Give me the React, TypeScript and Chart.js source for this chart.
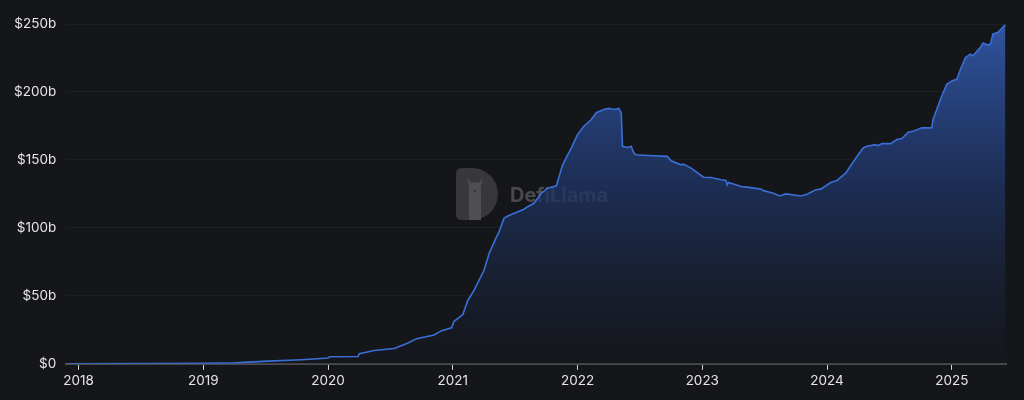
import React, { useEffect, useRef } from "react";
import { Chart, registerables } from "chart.js";

Chart.register(...registerables);

// Time as fractional year, TVL in billions of USD
const years: number[] = [
  2017.91, 2018.51, 2018.99, 2019.25, 2019.52, 2019.79, 2020.0, 2020.01, 2020.24, 2020.25,
  2020.37, 2020.53, 2020.64, 2020.71, 2020.85, 2020.91, 2020.99, 2021.01, 2021.08, 2021.12,
  2021.17, 2021.25, 2021.29, 2021.35, 2021.37, 2021.41, 2021.44, 2021.57, 2021.6, 2021.65,
  2021.71, 2021.76, 2021.83, 2021.88, 2021.95, 2022.0, 2022.05, 2022.11, 2022.15, 2022.21,
  2022.25, 2022.29, 2022.33, 2022.35, 2022.36, 2022.4, 2022.43, 2022.45, 2022.47, 2022.56,
  2022.72, 2022.75, 2022.83, 2022.85, 2022.91, 2023.01, 2023.07, 2023.15, 2023.19, 2023.2,
  2023.21, 2023.25, 2023.31, 2023.36, 2023.47, 2023.49, 2023.57, 2023.62, 2023.67, 2023.79,
  2023.84, 2023.91, 2023.95, 2024.03, 2024.08, 2024.15, 2024.2, 2024.25, 2024.29, 2024.32,
  2024.39, 2024.41, 2024.44, 2024.51, 2024.56, 2024.6, 2024.65, 2024.69, 2024.76, 2024.84,
  2024.85, 2024.89, 2024.92, 2024.96, 2025.0, 2025.04, 2025.07, 2025.11, 2025.15, 2025.17,
  2025.23, 2025.25, 2025.29, 2025.31, 2025.33, 2025.37, 2025.4, 2025.43,
];

const tvl: number[] = [
  0.0, 0.1, 0.4, 0.7, 2.0, 3.0, 4.2, 5.2, 5.4, 7.4,
  9.8, 11.3, 15.3, 18.5, 21.2, 24.4, 26.5, 31.3, 36.2, 46.6,
  54.0, 68.8, 81.0, 93.4, 97.0, 107.0, 108.7, 113.7, 115.6, 118.1,
  125.5, 129.2, 130.9, 146.4, 158.8, 168.6, 174.8, 179.7, 184.7, 187.1,
  187.9, 187.1, 187.9, 184.7, 160.0, 159.2, 160.0, 155.1, 153.8, 153.3,
  152.6, 149.4, 146.4, 146.9, 144.0, 137.3, 137.1, 135.4, 134.9, 131.7,
  133.4, 132.2, 130.4, 130.0, 128.5, 127.4, 125.5, 123.5, 125.0, 123.5,
  124.8, 128.0, 128.5, 133.4, 134.9, 140.3, 147.2, 153.8, 158.8, 160.0,
  161.2, 160.5, 162.0, 162.0, 165.0, 165.7, 170.3, 171.1, 173.6, 173.6,
  179.7, 189.6, 197.0, 205.6, 208.1, 209.3, 216.7, 225.4, 227.8, 226.6,
  232.8, 236.0, 234.5, 235.2, 242.6, 243.9, 246.7, 249.3,
];

const xTicks: number[] = [2018, 2019, 2020, 2021, 2022, 2023, 2024, 2025];
const yTicks: number[] = [0, 50, 100, 150, 200, 250];

const BG = "#151619";
const FONT = "Inter, 'Noto Sans', sans-serif";

const watermark = {
  id: "watermark",
  beforeDatasetsDraw(chart: any) {
    const ctx = chart.ctx as CanvasRenderingContext2D;
    ctx.save();
    const x = 456, y = 168, w = 38, h = 52, r = 6;
    ctx.fillStyle = "#38383a";
    ctx.beginPath();
    ctx.moveTo(x + r, y);
    ctx.lineTo(x + w - 22, y);
    ctx.arc(x + w - 22, y + h / 2, h / 2, -Math.PI / 2, Math.PI / 2);
    ctx.lineTo(x + r, y + h);
    ctx.quadraticCurveTo(x, y + h, x, y + h - r);
    ctx.lineTo(x, y + r);
    ctx.quadraticCurveTo(x, y, x + r, y);
    ctx.fill();
    // llama silhouette
    ctx.fillStyle = "#4f4f52";
    ctx.fillRect(x + 13, y + 20, 12, h - 20);
    ctx.beginPath();
    ctx.arc(x + 19, y + 20, 6, 0, Math.PI * 2);
    ctx.fill();
    ctx.beginPath();
    ctx.moveTo(x + 11, y + 9);
    ctx.lineTo(x + 16, y + 16);
    ctx.lineTo(x + 13, y + 18);
    ctx.fill();
    ctx.beginPath();
    ctx.moveTo(x + 27, y + 9);
    ctx.lineTo(x + 22, y + 16);
    ctx.lineTo(x + 25, y + 18);
    ctx.fill();
    ctx.fillStyle = "#38383a";
    ctx.beginPath();
    ctx.moveTo(x + 17, y + 22);
    ctx.lineTo(x + 21, y + 22);
    ctx.lineTo(x + 19, y + 25);
    ctx.fill();
    ctx.fillStyle = "#4a4a4c";
    ctx.font = `bold 20px ${FONT}`;
    ctx.textBaseline = "middle";
    ctx.fillText("DefiLlama", 510, 196);
    ctx.restore();
  },
};

export default function App() {
  const ref = useRef<HTMLCanvasElement>(null);

  useEffect(() => {
    document.body.style.margin = "0";
    document.body.style.background = BG;
    const canvas = ref.current!;
    const chart = new Chart(canvas, {
      type: "line",
      data: {
        datasets: [
          {
            data: years.map((x, i) => ({ x, y: tvl[i] })),
            borderColor: "#3a6fd8",
            borderWidth: 1.6,
            pointRadius: 0,
            tension: 0,
            fill: "origin",
            backgroundColor: (c: any) => {
              const area = c.chart.chartArea;
              if (!area) return "rgba(50,88,170,0.5)";
              const g = c.chart.ctx.createLinearGradient(0, area.top, 0, area.bottom);
              g.addColorStop(0, "rgba(50,88,168,0.95)");
              g.addColorStop(0.45, "rgba(32,54,104,0.8)");
              g.addColorStop(1, "rgba(21,24,30,0.5)");
              return g;
            },
          },
        ],
      },
      options: {
        animation: false,
        responsive: false,
        maintainAspectRatio: false,
        layout: { padding: { top: 24, right: 18, left: 4, bottom: 8 } },
        plugins: { legend: { display: false }, tooltip: { enabled: false } },
        scales: {
          x: {
            type: "linear",
            min: 2017.9,
            max: 2025.435,
            afterBuildTicks: (s: any) => {
              s.ticks = xTicks.map((v) => ({ value: v }));
            },
            ticks: {
              color: "#e6e6e6",
              font: { family: FONT, size: 13.5 },
              padding: 3,
              maxRotation: 0,
              autoSkip: false,
              callback: (v: any) => String(v),
            },
            grid: {
              drawOnChartArea: false,
              drawTicks: true,
              tickLength: 6,
              tickColor: "#d8d8d8",
              tickWidth: 1,
            },
            border: { color: "#4a4b4e", width: 2 },
          },
          y: {
            type: "linear",
            min: 0,
            max: 250,
            afterBuildTicks: (s: any) => {
              s.ticks = yTicks.map((v) => ({ value: v }));
            },
            ticks: {
              color: "#e6e6e6",
              font: { family: FONT, size: 13.5 },
              padding: 10,
              callback: (v: any) => (v === 0 ? "$0" : `$${v}b`),
            },
            grid: { color: "#1e1f22", drawTicks: false, lineWidth: 1 },
            border: { display: false },
          },
        },
      },
      plugins: [watermark],
    });
    return () => chart.destroy();
  }, []);

  return (
    <div style={{ width: 1024, height: 400, background: BG }}>
      <canvas ref={ref} width={1024} height={400} style={{ display: "block" }} />
    </div>
  );
}
